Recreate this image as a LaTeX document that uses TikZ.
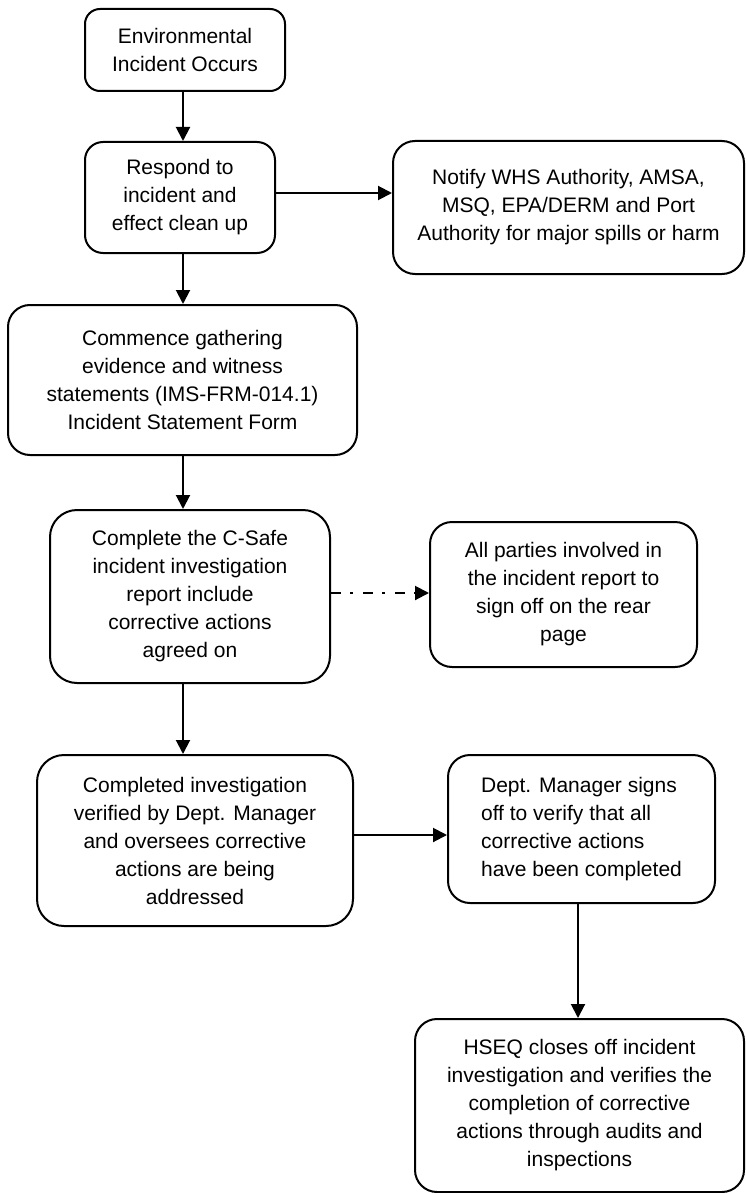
\documentclass[tikz,border=0pt]{standalone}
\usepackage{fontspec}
\setmainfont{Liberation Sans}
\usetikzlibrary{arrows.meta}
\tikzset{
  box/.style={draw, line width=2pt, inner sep=0pt, align=center,
    font=\fontsize{21}{28}\selectfont},
  arr/.style={line width=2pt, -{Triangle[length=14pt,width=14pt]}},
  dasharr/.style={arr, dash pattern=on 10pt off 9pt on 3pt off 10pt},
}
\begin{document}
\begin{tikzpicture}[x=1pt,y=-1pt]
\useasboundingbox (0,0) rectangle (745,1193);
\node[box, rounded corners=15pt, minimum width=200pt, minimum height=82pt] (n1) at (185,50)
  {Environmental\\Incident Occurs};
\node[box, rounded corners=18pt, minimum width=190pt, minimum height=111pt] (n2) at (180,197.5)
  {Respond to\\incident and\\effect clean up};
\node[box, rounded corners=22pt, minimum width=351pt, minimum height=133pt] (n3) at (568.5,207.5)
  {\raisebox{5pt}{\parbox{340pt}{\centering Notify WHS Authority, AMSA,\\MSQ, EPA/DERM and Port\\Authority for major spills or harm}}};
\node[box, rounded corners=22pt, minimum width=349pt, minimum height=150pt] (n4) at (182.5,380)
  {Commence gathering\\evidence and witness\\statements (IMS-FRM-014.1)\\Incident Statement Form};
\node[box, rounded corners=27pt, minimum width=280pt, minimum height=173pt] (n5) at (190,596.5)
  {Complete the C-Safe\\incident investigation\\report include\\corrective actions\\agreed on};
\node[box, rounded corners=22pt, minimum width=267pt, minimum height=145pt] (n6) at (563.5,594.5)
  {All parties involved in\\the incident report to\\sign off on the rear\\page};
\node[box, rounded corners=27pt, minimum width=316pt, minimum height=171pt] (n7) at (195,840.5)
  {Completed investigation\\verified by Dept. Manager\\and oversees corrective\\actions are being\\addressed};
\node[box, align=left, rounded corners=22pt, minimum width=267pt, minimum height=148pt] (n8) at (581.5,829)
  {Dept. Manager signs\\off to verify that all\\corrective actions\\have been completed};
\node[box, rounded corners=22pt, minimum width=329pt, minimum height=173pt] (n9) at (579.5,1105.5)
  {HSEQ closes off incident\\investigation and verifies the\\completion of corrective\\actions through audits and\\inspections};
% spine connectors
\coordinate (s1) at (183,0);
\draw[arr] (s1 |- n1.south) -- (s1 |- n2.north);
\draw[arr] (s1 |- n2.south) -- (s1 |- n4.north);
\draw[arr] (s1 |- n4.south) -- (s1 |- n5.north);
\draw[arr] (s1 |- n5.south) -- (s1 |- n7.north);
% side connectors
\coordinate (h1) at (0,193);
\draw[arr] (h1 -| n2.east) -- (h1 -| n3.west);
\coordinate (h2) at (0,593);
\draw[dasharr] (h2 -| n5.east) -- (h2 -| n6.west);
\coordinate (h3) at (0,835);
\draw[arr] (h3 -| n7.east) -- (h3 -| n8.west);
\coordinate (s2) at (578,0);
\draw[arr] (s2 |- n8.south) -- (s2 |- n9.north);
\end{tikzpicture}
\end{document}
